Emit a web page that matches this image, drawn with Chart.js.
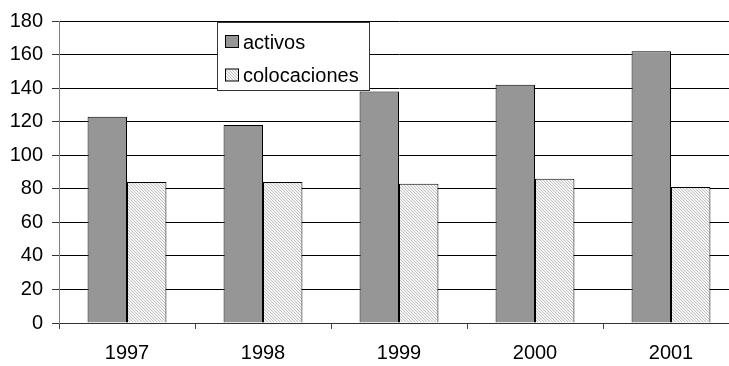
<!DOCTYPE html>
<html>
<head>
<meta charset="utf-8">
<script src="https://cdn.jsdelivr.net/npm/chart.js@4/dist/chart.umd.min.js"></script>
<style>
  html, body { margin: 0; padding: 0; background: #fff; overflow: hidden; }
  #wrap { width: 740px; height: 366px; }
</style>
</head>
<body>
<div id="wrap"><canvas id="c" width="740" height="366"></canvas></div>
<script>
// Years on the category axis
const years = ['1997', '1998', '1999', '2000', '2001'];
// Series values
const activos = [123, 118, 138, 142, 162];
const colocaciones = [84, 84, 83, 86, 81];
const seriesNames = ['activos', 'colocaciones'];
// Value axis range
const yMin = 0;
const yMax = 180;
const yStep = 20;

const FONT = "'Liberation Sans', Arial, Helvetica, sans-serif";

// Fine diagonal hatch used for the second series
function makeHatch() {
  const p = document.createElement('canvas');
  p.width = 3; p.height = 3;
  const g = p.getContext('2d');
  g.fillStyle = '#f3f3f3';
  g.fillRect(0, 0, 3, 3);
  g.fillStyle = '#c4c4c4';
  for (let i = 0; i < 3; i++) g.fillRect(i, i, 1, 1);
  return document.getElementById('c').getContext('2d').createPattern(p, 'repeat');
}
const hatch = makeHatch();

// Framed legend drawn over the plot
const boxLegend = {
  id: 'boxLegend',
  afterDraw(chart) {
    const ctx = chart.ctx;
    const x = 217.5, y = 22.5, w = 152, h = 68;
    ctx.save();
    ctx.fillStyle = '#ffffff';
    ctx.fillRect(x, y, w, h);
    ctx.strokeStyle = '#333333';
    ctx.lineWidth = 1;
    ctx.strokeRect(x, y, w, h);
    ctx.font = '20px ' + FONT;
    ctx.textBaseline = 'alphabetic';
    ctx.textAlign = 'left';
    chart.data.datasets.forEach((ds, i) => {
      const sy = 35.5 + i * 33.5;
      ctx.fillStyle = ds.backgroundColor;
      ctx.fillRect(225.5, sy, 13, 12);
      ctx.strokeStyle = '#000000';
      ctx.strokeRect(225.5, sy, 13, 12);
      ctx.fillStyle = '#000000';
      ctx.fillText(ds.label, 243, sy + 13);
    });
    ctx.restore();
  }
};

new Chart(document.getElementById('c'), {
  type: 'bar',
  data: {
    labels: years,
    datasets: [
      {
        label: seriesNames[0],
        data: activos,
        backgroundColor: '#969696',
        borderColor: '#000000',
        borderWidth: 1,
        barPercentage: 1,
        categoryPercentage: 0.58
      },
      {
        label: seriesNames[1],
        data: colocaciones,
        backgroundColor: hatch,
        borderColor: '#000000',
        borderWidth: 1,
        barPercentage: 1,
        categoryPercentage: 0.58
      }
    ]
  },
  options: {
    responsive: false,
    animation: false,
    layout: { padding: { top: 15, right: 1, left: 0, bottom: 0 } },
    plugins: {
      legend: { display: false },
      tooltip: { enabled: false }
    },
    scales: {
      x: {
        offset: true,
        grid: {
          display: true,
          offset: true,
          drawOnChartArea: false,
          drawTicks: true,
          tickLength: 6,
          tickColor: '#444444'
        },
        border: { display: true, color: '#333333', width: 1 },
        ticks: {
          color: '#000000',
          font: { family: FONT, size: 20 },
          padding: 12,
          maxRotation: 0
        },
        afterFit(scale) { scale.height = 43; }
      },
      y: {
        min: yMin,
        max: yMax,
        grid: {
          color: '#000000',
          lineWidth: 1,
          drawTicks: true,
          tickLength: 7,
          tickColor: '#333333'
        },
        border: { display: true, color: '#808080', width: 1 },
        ticks: {
          stepSize: yStep,
          color: '#000000',
          font: { family: FONT, size: 20 },
          padding: 9
        },
        afterFit(scale) { scale.width = 59; }
      }
    }
  },
  plugins: [boxLegend]
});
</script>
</body>
</html>
